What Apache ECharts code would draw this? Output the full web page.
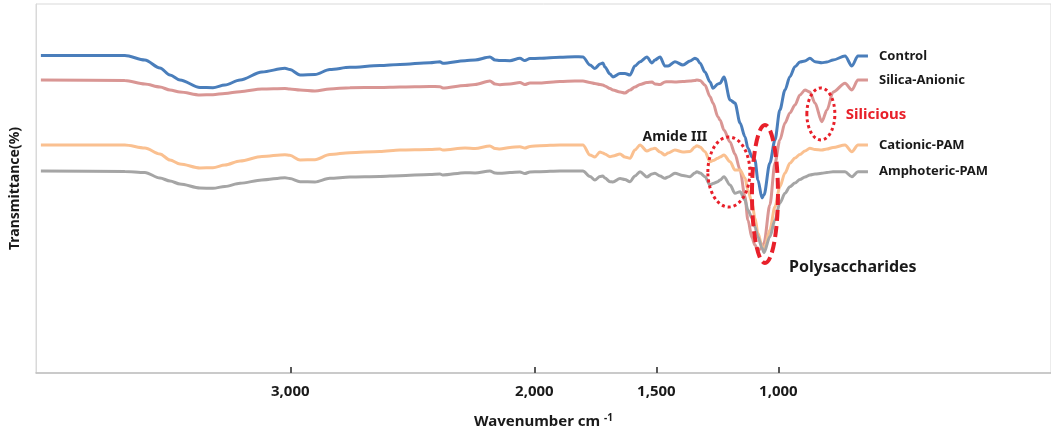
<!DOCTYPE html>
<html>
<head>
<meta charset="utf-8">
<script src="https://cdn.jsdelivr.net/npm/echarts@6/dist/echarts.min.js"></script>
<style>
  html, body { margin: 0; padding: 0; background: #fff; }
  #main { width: 1051px; height: 436px; }
</style>
</head>
<body>
<div id="main"></div>
<script>
// wavenumber (cm-1)
let wavenumbers = [
    4022, 3678, 3596, 3534, 3493, 3452, 3370, 3317, 3268, 3206,
    3116, 3022, 3002, 2960, 2899, 2838, 2756, 2633, 2551, 2428,
    2387, 2375, 2284, 2243, 2182, 2161, 2141, 2100, 2059, 2039,
    2018, 1977, 1895, 1834, 1801, 1772, 1752, 1731, 1719, 1711,
    1690, 1678, 1649, 1629, 1608, 1588, 1567, 1539, 1518, 1506,
    1485, 1465, 1452, 1424, 1391, 1362, 1342, 1334, 1321, 1301,
    1280, 1268, 1248, 1239, 1223, 1198, 1178, 1157, 1137, 1125,
    1108, 1096, 1084, 1067, 1059, 1035, 1014, 994, 973, 953,
    932, 912, 891, 871, 850, 822, 801, 776, 727, 699,
    674, 633
];

// transmittance, arbitrary units (curves are offset from each other)
let control = [
    317.5, 317.5, 313, 305, 298, 293, 285.5, 285.3, 288, 293,
    301, 304.7, 303.5, 298, 298.5, 303.5, 305.7, 307.5, 308.5, 310.3,
    311.3, 309.7, 312.3, 313, 316, 313, 312.5, 312.3, 314.7, 312.5,
    314.5, 314.7, 315.7, 316.3, 316, 308, 304.5, 309, 310, 306,
    299, 296, 299.5, 299.5, 298, 307, 311.3, 316, 310, 313,
    316, 307, 307, 311.3, 308, 312, 314.7, 314, 309.7, 301,
    291, 284.7, 289, 289.7, 296, 273, 270, 250, 236.3, 225,
    216, 213, 193, 175, 178, 210, 233, 263, 283, 296.3,
    306.3, 311, 312, 314.7, 311.3, 310.3, 311, 313, 317, 307,
    317, 317
];
let silicaAnionic = [
    293, 292.5, 289, 286, 283, 281, 278, 278.3, 279.5, 281.3,
    284, 284.5, 284, 283, 282, 284, 285.3, 285.5, 286, 286.5,
    286.3, 285, 287.5, 288.5, 292, 289, 288.3, 289, 290.5, 288.5,
    290, 290, 291.5, 292, 292, 290.5, 289.5, 288.5, 288, 287,
    284.5, 283, 281, 280, 283, 286, 288.5, 290.5, 291, 289,
    288.5, 291, 291.3, 291, 291.5, 292, 292.5, 293, 292.5, 288,
    276.3, 270, 256.3, 253, 243, 231, 219, 203, 176.3, 153,
    135, 128, 123, 125, 130, 168, 210, 233, 250, 260,
    268, 278, 283, 281, 270, 251.3, 263, 281, 289.7, 283,
    293, 293
];
let cationicPAM = [
    228, 228, 225, 219, 213, 209, 205, 205.3, 208, 212,
    216.5, 218.3, 217.7, 213, 213.3, 218.5, 220.3, 221.5, 223, 223.5,
    224, 223, 225, 224.5, 227, 224.5, 224, 225.5, 226.3, 225,
    226.5, 227.3, 228, 228, 228, 218, 216, 221, 220, 219,
    216.3, 217, 219, 216, 214.7, 223, 228, 222, 224, 224.7,
    221, 218, 220, 223, 221, 221.5, 226, 227.3, 226, 221.3,
    211.3, 212.5, 214.7, 216, 218, 211.3, 203, 203, 195, 183,
    170, 155, 140, 127, 123, 143, 166.3, 186.3, 200, 209.7,
    215, 218.5, 222, 224.7, 223.5, 223, 224, 225.5, 228, 221.3,
    228, 228
];
let amphotericPAM = [
    202, 201.5, 200.5, 195, 192, 189, 185, 184.7, 186.5, 189.7,
    193, 195.3, 194.5, 191.3, 191, 194.7, 196, 196.5, 197.3, 198.5,
    199, 198, 200.3, 200, 202, 200, 199.7, 200.5, 201, 199.5,
    201, 201.3, 202, 202, 202, 196.5, 193, 196.5, 197, 195,
    191.3, 191, 194.5, 193.5, 191.3, 197, 201.3, 196, 199, 199.7,
    197, 194.7, 196, 199.7, 197.5, 196.3, 200, 201.3, 200, 196.3,
    188, 189.5, 191.3, 193, 196.3, 188, 179.7, 181.3, 173, 163,
    155, 146, 136.3, 125, 120.3, 136.3, 153, 170, 179.7, 186.3,
    190, 193.5, 196, 198, 199, 199.7, 200.5, 201.3, 201.3, 196.3,
    201.3, 201.3
];

let seriesNames = ['Control', 'Silica-Anionic', 'Cationic-PAM', 'Amphoteric-PAM'];
let seriesValues = [control, silicaAnionic, cationicPAM, amphotericPAM];
let seriesColors = ['#4a7ebb', '#d99694', '#fac090', '#a5a5a5'];

let tickValues = [3000, 2000, 1500, 1000];

function toPairs(values) {
    return wavenumbers.map(function (w, i) {
        return [w, values[i]];
    });
}

var myChart = echarts.init(document.getElementById('main'));

var option = {
    animation: false,
    backgroundColor: '#fff',
    textStyle: { fontFamily: 'Noto Sans' },
    grid: {
        left: 36, right: 0, top: 4, bottom: 63,
        show: true, borderColor: '#d9d9d9', borderWidth: 1
    },
    xAxis: {
        type: 'value',
        inverse: true,
        min: -117,
        max: 4042,
        splitLine: { show: false },
        axisLine: { lineStyle: { color: '#bfbfbf', width: 1.5 } },
        axisTick: {
            show: true, inside: true, length: 6,
            customValues: tickValues,
            lineStyle: { color: '#595959', width: 2 }
        },
        axisLabel: {
            customValues: tickValues,
            margin: 11,
            color: '#1a1a1a',
            fontSize: 15,
            fontWeight: 'bold',
            formatter: function (v) {
                return v.toLocaleString('en-US');
            }
        },
        name: '{a|Wavenumber cm }{b|-1}',
        nameLocation: 'middle',
        nameGap: 40,
        nameTextStyle: {
            rich: {
                a: { fontSize: 15, fontWeight: 'bold', color: '#1a1a1a' },
                b: { fontSize: 10, fontWeight: 'bold', color: '#1a1a1a', padding: [0, 0, 8, 0] }
            }
        }
    },
    yAxis: {
        type: 'value',
        min: 0,
        max: 369,
        splitLine: { show: false },
        axisTick: { show: false },
        axisLabel: { show: false },
        axisLine: { show: true, onZero: false, lineStyle: { color: '#d9d9d9' } },
        name: 'Transmittance(%)',
        nameLocation: 'middle',
        nameGap: 14,
        nameTextStyle: { fontSize: 14, fontWeight: 'bold', color: '#1a1a1a' }
    },
    series: seriesNames.map(function (name, i) {
        return {
            name: name,
            type: 'line',
            showSymbol: false,
            smooth: 0.3,
            smoothMonotone: 'x',
            data: toPairs(seriesValues[i]),
            lineStyle: { color: seriesColors[i], width: 3 },
            itemStyle: { color: seriesColors[i] }
        };
    })
};

myChart.setOption(option);

// annotations (data coordinates -> pixels)
function px(w, t) {
    return myChart.convertToPixel({ gridIndex: 0 }, [w, t]);
}

let red = '#e8202a';
let amideC = px(1203, 201);
let polyC = px(1055, 179);
let silC = px(826, 259);
let amideT = px(1424, 236);
let polyT = px(695, 106);
let silT = px(600, 258);

let graphics = [
    {
        type: 'ellipse', z: 100,
        shape: { cx: amideC[0], cy: amideC[1], rx: 21, ry: 35 },
        style: { fill: null, stroke: red, lineWidth: 3, lineDash: [3, 3] }
    },
    {
        type: 'ellipse', z: 100,
        shape: { cx: polyC[0], cy: polyC[1], rx: 13, ry: 69 },
        style: { fill: null, stroke: red, lineWidth: 4, lineDash: [11, 5] }
    },
    {
        type: 'ellipse', z: 100,
        shape: { cx: silC[0], cy: silC[1], rx: 14, ry: 26 },
        style: { fill: null, stroke: red, lineWidth: 3, lineDash: [3, 3] }
    },
    {
        type: 'text', z: 100, x: amideT[0], y: amideT[1],
        style: {
            text: 'Amide III', align: 'center', verticalAlign: 'middle',
            fill: '#1a1a1a', font: 'bold 14px "Noto Sans"'
        }
    },
    {
        type: 'text', z: 100, x: polyT[0], y: polyT[1],
        style: {
            text: 'Polysaccharides', align: 'center', verticalAlign: 'middle',
            fill: '#1a1a1a', font: 'bold 16px "Noto Sans"'
        }
    },
    {
        type: 'text', z: 100, x: silT[0], y: silT[1],
        style: {
            text: 'Silicious', align: 'center', verticalAlign: 'middle',
            fill: red, font: 'bold 15px "Noto Sans"'
        }
    }
];

// series names written right after the last point of each curve
let last = wavenumbers.length - 1;
seriesNames.forEach(function (name, i) {
    let p = px(wavenumbers[last], seriesValues[i][last]);
    graphics.push({
        type: 'text', z: 100, x: p[0] + 11, y: p[1],
        style: {
            text: name, align: 'left', verticalAlign: 'middle',
            fill: '#1a1a1a', font: 'bold 13px "Noto Sans"'
        }
    });
});

myChart.setOption({ graphic: graphics });
</script>
</body>
</html>
